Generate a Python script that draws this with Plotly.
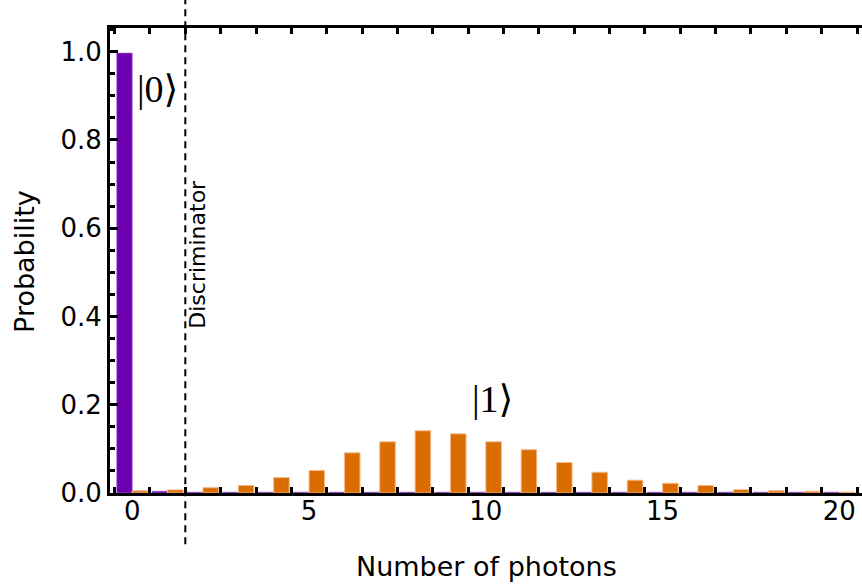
import plotly.graph_objects as go

photons = list(range(21))
p_dark = [0.997, 0.004, 0.002, 0.002, 0.002, 0.002, 0.002, 0.002, 0.002, 0.002, 0.002,
          0.002, 0.002, 0.002, 0.002, 0.002, 0.002, 0.002, 0.002, 0.002, 0.002]
p_bright = [0.005, 0.007, 0.012, 0.017, 0.035, 0.051, 0.091, 0.116, 0.141, 0.134, 0.116,
            0.098, 0.069, 0.047, 0.029, 0.022, 0.017, 0.0075, 0.005, 0.004, 0.002]
x_ticks = [0, 5, 10, 15, 20]
x_tick_marks = [n + 0.5 for n in range(-1, 21)]
discriminator = 1.5
XR = [-0.63, 20.64]

FONT = "DejaVu Sans"
fig = go.Figure()
fig.add_bar(x=photons, y=p_dark, marker=dict(color="#6f00b0", line=dict(color="#a070d0", width=0.6)),
            showlegend=False)
fig.add_bar(x=photons, y=p_bright, marker=dict(color="#d96d00", line=dict(color="#f2b98a", width=1)),
            showlegend=False)
# carrier trace for the label axis
fig.add_scatter(x=[XR[0]], y=[0.5], xaxis="x2", mode="markers", marker=dict(opacity=0),
                showlegend=False, hoverinfo="skip")

fig.add_shape(type="line", xref="x", yref="paper", x0=discriminator, x1=discriminator,
              y0=-0.11, y1=1.07, line=dict(color="black", width=2, dash="7px,5px"))

ann = []
ann.append(dict(x=1.86, y=0.54, xref="x", yref="y", text="Discriminator", textangle=-90,
                showarrow=False, font=dict(family=FONT, size=22, color="black")))
ann.append(dict(x=0.70, y=0.915, xref="x", yref="y", text="|0⟩", showarrow=False,
                font=dict(family="Liberation Serif, DejaVu Serif, serif", size=38, color="black")))
ann.append(dict(x=10.18, y=0.213, xref="x", yref="y", text="|1⟩", showarrow=False,
                font=dict(family="Liberation Serif, DejaVu Serif, serif", size=38, color="black")))
ann.append(dict(x=0.5, y=-0.159, xref="paper", yref="paper", text="Number of photons",
                showarrow=False, yanchor="middle",
                font=dict(family=FONT, size=27, color="black")))
ann.append(dict(x=-0.113, y=0.497, xref="paper", yref="paper", text="Probability", textangle=-90,
                showarrow=False, xanchor="center", yanchor="middle",
                font=dict(family=FONT, size=27, color="black")))

fig.update_layout(
    width=862, height=588,
    margin=dict(l=110, r=0, t=28, b=95),
    paper_bgcolor="white", plot_bgcolor="white",
    barmode="group", bargap=0.12, bargroupgap=0,
    annotations=ann,
    font=dict(family=FONT, size=26, color="black"),
    xaxis=dict(range=XR, tickvals=x_tick_marks, showticklabels=False,
               ticks="inside", ticklen=6, tickwidth=3, tickcolor="black",
               showline=True, linecolor="black", linewidth=3, mirror="ticks",
               showgrid=False, zeroline=False),
    xaxis2=dict(range=XR, overlaying="x", anchor="y", side="bottom",
                tickvals=x_ticks, ticks="", showline=False, showgrid=False, zeroline=False,
                tickfont=dict(family=FONT, size=26, color="black")),
    yaxis=dict(range=[0, 1.0537], tickvals=[0, 0.2, 0.4, 0.6, 0.8, 1.0],
               ticktext=["0.0", "0.2", "0.4", "0.6", "0.8", "1.0"],
               ticks="inside", ticklen=8, tickwidth=2.5, tickcolor="black",
               showline=True, linecolor="black", linewidth=3, mirror=False,
               showgrid=False, zeroline=False,
               tickfont=dict(family=FONT, size=26, color="black"),
               minor=dict(tickmode="linear", tick0=0, dtick=0.05, ticks="inside",
                          ticklen=5, tickwidth=2.5, tickcolor="black", showgrid=False)),
)

fig.write_html("out.html")
